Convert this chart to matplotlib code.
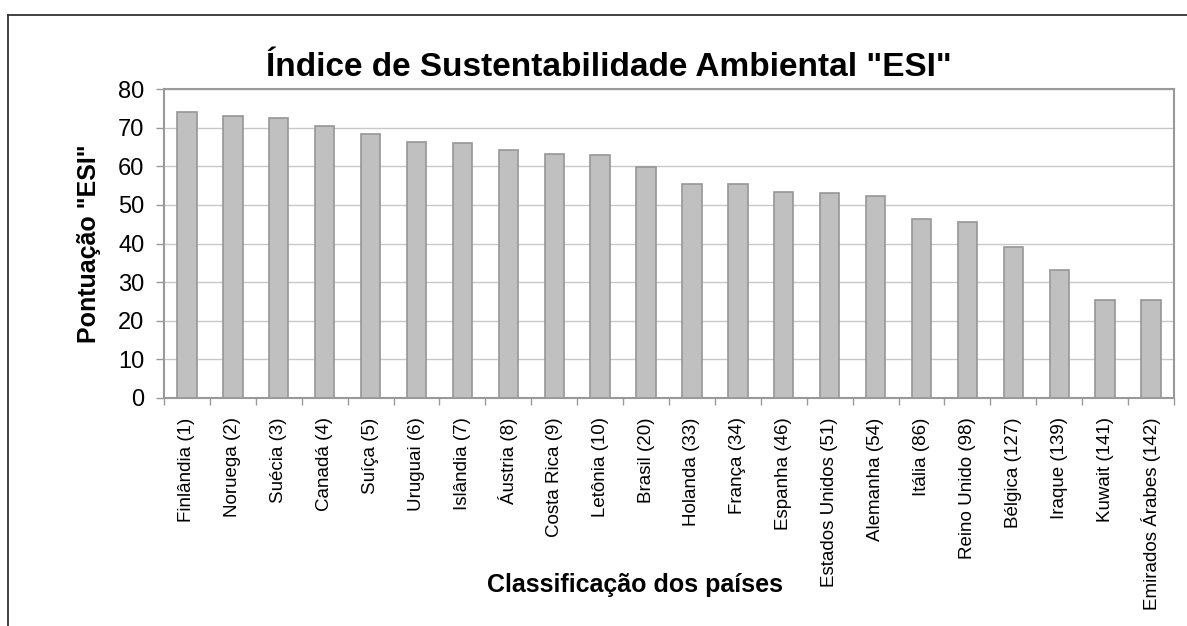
import matplotlib
matplotlib.use("Agg")
import matplotlib.pyplot as plt
from matplotlib.lines import Line2D
import numpy as np

plt.rcParams['font.family'] = ['Liberation Sans', 'DejaVu Sans']

countries = ["Finlândia (1)", "Noruega (2)", "Suécia (3)", "Canadá (4)", "Suíça (5)",
             "Uruguai (6)", "Islândia (7)", "Áustria (8)", "Costa Rica (9)", "Letônia (10)",
             "Brasil (20)", "Holanda (33)", "França (34)", "Espanha (46)",
             "Estados Unidos (51)", "Alemanha (54)", "Itália (86)", "Reino Unido (98)",
             "Bélgica (127)", "Iraque (139)", "Kuwait (141)", "Emirados Árabes (142)"]
scores = [74.1, 73.0, 72.5, 70.5, 68.4, 66.3, 66.0, 64.2, 63.2, 63.0,
          59.8, 55.3, 55.3, 53.3, 53.0, 52.4, 46.4, 45.6, 39.1, 33.2, 25.4, 25.4]
yticks = [0, 10, 20, 30, 40, 50, 60, 70, 80]

fig = plt.figure(figsize=(11.87, 6.26), dpi=100)
ax = fig.add_axes([164/1187, 1-398/626, 1010/1187, 309/626])

x = np.arange(len(countries))
ax.bar(x, scores, width=0.42, color='#c0c0c0', edgecolor='#969696', linewidth=1.2, zorder=3)

ax.set_xlim(-0.5, len(countries) - 0.5)
ax.set_ylim(0, 80)
ax.set_yticks(yticks)
ax.yaxis.grid(True, color='#c8c8c8', linewidth=1.0, zorder=0)
ax.set_axisbelow(True)

ax.set_xticks(x)
ax.set_xticklabels(countries, rotation=90, ha='center', va='top', fontsize=13.5)
ax.set_xticks(np.arange(len(countries) + 1) - 0.5, minor=True)
ax.tick_params(axis='x', which='major', length=0, pad=14)
ax.tick_params(axis='x', which='minor', length=5, width=1, color='#999999')
ax.tick_params(axis='y', which='major', length=6, width=1, color='#999999', pad=8, labelsize=17)

for s in ax.spines.values():
    s.set_color('#999999')
    s.set_linewidth(1.5)

ax.set_ylabel('Pontuação "ESI"', fontsize=18, fontweight='bold')
ax.yaxis.set_label_coords((101-164)/1010, 0.5)

fig.text(609/1187, 1-68/626, 'Índice de Sustentabilidade Ambiental "ESI"',
         fontsize=24, fontweight='bold', ha='center', va='center')
fig.text(635/1187, 1-585/626, 'Classificação dos países',
         fontsize=18, fontweight='bold', ha='center', va='center')

fig.add_artist(Line2D([8/1187, 1.0], [1-15/626, 1-15/626], color='#333333', linewidth=1.3,
                      transform=fig.transFigure))
fig.add_artist(Line2D([8/1187, 8/1187], [0, 1-15/626], color='#333333', linewidth=1.3,
                      transform=fig.transFigure))

fig.savefig('out.png', dpi=100)
